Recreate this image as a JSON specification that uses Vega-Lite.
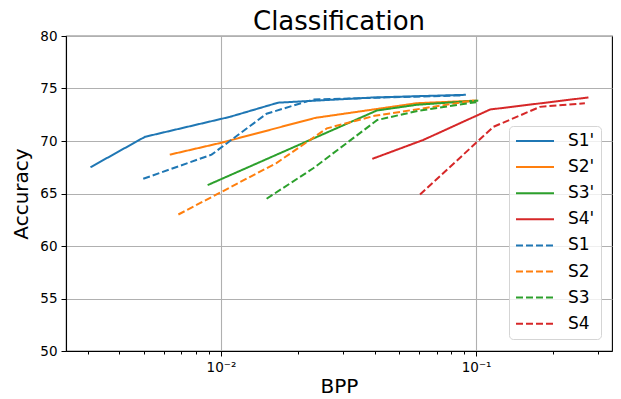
{
  "$schema": "https://vega.github.io/schema/vega-lite/v6.json",
  "autosize": {"type": "none"},
  "width": 546,
  "height": 315,
  "padding": {"left": 66, "top": 36, "right": 9, "bottom": 48},
  "background": "white",
  "title": {"text": "Classification", "fontSize": 26, "font": "DejaVu Sans", "fontWeight": "normal", "color": "black", "offset": -6},
  "config": {
    "font": "DejaVu Sans",
    "view": {"stroke": "black", "strokeWidth": 1.1}
  },
  "data": {"values": [
    {"series": "S1'", "bpp": 0.00308, "acc": 67.5},
    {"series": "S1'", "bpp": 0.00504, "acc": 70.4},
    {"series": "S1'", "bpp": 0.01084, "acc": 72.3},
    {"series": "S1'", "bpp": 0.01675, "acc": 73.65},
    {"series": "S1'", "bpp": 0.04, "acc": 74.15},
    {"series": "S1'", "bpp": 0.0912, "acc": 74.4},
    {"series": "S2'", "bpp": 0.0063, "acc": 68.7},
    {"series": "S2'", "bpp": 0.0099, "acc": 69.8},
    {"series": "S2'", "bpp": 0.0234, "acc": 72.2},
    {"series": "S2'", "bpp": 0.0586, "acc": 73.6},
    {"series": "S2'", "bpp": 0.1007, "acc": 73.85},
    {"series": "S3'", "bpp": 0.00887, "acc": 65.8},
    {"series": "S3'", "bpp": 0.0408, "acc": 72.9},
    {"series": "S3'", "bpp": 0.0586, "acc": 73.45},
    {"series": "S3'", "bpp": 0.102, "acc": 73.85},
    {"series": "S4'", "bpp": 0.0392, "acc": 68.3},
    {"series": "S4'", "bpp": 0.0621, "acc": 70.1},
    {"series": "S4'", "bpp": 0.1135, "acc": 73.0},
    {"series": "S4'", "bpp": 0.2757, "acc": 74.15},
    {"series": "S1", "bpp": 0.00496, "acc": 66.4},
    {"series": "S1", "bpp": 0.00919, "acc": 68.7},
    {"series": "S1", "bpp": 0.0151, "acc": 72.6},
    {"series": "S1", "bpp": 0.023, "acc": 73.95},
    {"series": "S1", "bpp": 0.0889, "acc": 74.35},
    {"series": "S2", "bpp": 0.00681, "acc": 63.0},
    {"series": "S2", "bpp": 0.0165, "acc": 67.9},
    {"series": "S2", "bpp": 0.026, "acc": 71.2},
    {"series": "S2", "bpp": 0.04, "acc": 72.4},
    {"series": "S2", "bpp": 0.098, "acc": 73.85},
    {"series": "S3", "bpp": 0.0151, "acc": 64.5},
    {"series": "S3", "bpp": 0.023, "acc": 67.4},
    {"series": "S3", "bpp": 0.041, "acc": 72.0},
    {"series": "S3", "bpp": 0.06, "acc": 72.9},
    {"series": "S3", "bpp": 0.1, "acc": 73.7},
    {"series": "S4", "bpp": 0.0603, "acc": 64.9},
    {"series": "S4", "bpp": 0.117, "acc": 71.35},
    {"series": "S4", "bpp": 0.178, "acc": 73.25},
    {"series": "S4", "bpp": 0.267, "acc": 73.6}
  ]},
  "mark": {"type": "line", "strokeWidth": 2, "clip": true},
  "encoding": {
    "x": {
      "field": "bpp", "type": "quantitative",
      "scale": {"type": "log", "domain": [0.00247, 0.341], "nice": false},
      "axis": {
        "title": "BPP", "titleFontSize": 20, "titleFontWeight": "normal", "titleColor": "black", "titlePadding": 3,
        "values": [0.003, 0.004, 0.005, 0.006, 0.007, 0.008, 0.009, 0.01, 0.02, 0.03, 0.04, 0.05, 0.06, 0.07, 0.08, 0.09, 0.1, 0.2, 0.3],
        "labelExpr": "datum.value == 0.01 ? '10⁻²' : (datum.value == 0.1 ? '10⁻¹' : '')",
        "labelFontSize": 13.5, "labelColor": "black", "labelPadding": 4,
        "tickColor": "black", "tickWidth": 1,
        "tickSize": {"condition": {"test": "datum.value == 0.01 || datum.value == 0.1", "value": 5}, "value": 3},
        "grid": true, "gridColor": "#b0b0b0", "gridWidth": 1.1,
        "gridOpacity": {"condition": {"test": "datum.value == 0.01 || datum.value == 0.1", "value": 1}, "value": 0},
        "domainColor": "black", "domainWidth": 1.1
      }
    },
    "y": {
      "field": "acc", "type": "quantitative",
      "scale": {"domain": [50, 80], "nice": false, "zero": false},
      "axis": {
        "title": "Accuracy", "titleFontSize": 20, "titleFontWeight": "normal", "titleColor": "black", "titlePadding": 8,
        "values": [50, 55, 60, 65, 70, 75, 80],
        "labelFontSize": 13.5, "labelColor": "black", "labelPadding": 4,
        "tickColor": "black", "tickSize": 5, "tickWidth": 1,
        "grid": true, "gridColor": "#b0b0b0", "gridWidth": 1.1,
        "domainColor": "black", "domainWidth": 1.1
      }
    },
    "color": {
      "field": "series", "type": "nominal",
      "scale": {
        "domain": ["S1'", "S2'", "S3'", "S4'", "S1", "S2", "S3", "S4"],
        "range": ["#1f77b4", "#ff7f0e", "#2ca02c", "#d62728", "#1f77b4", "#ff7f0e", "#2ca02c", "#d62728"]
      },
      "legend": {
        "title": null, "orient": "none", "legendX": 443, "legendY": 90,
        "symbolType": "stroke", "symbolSize": 1444, "symbolStrokeWidth": 2,
        "labelFontSize": 17, "labelColor": "black", "labelOffset": 13,
        "clipHeight": 18, "rowPadding": 8.1, "padding": 6,
        "strokeColor": "#d5d5d5", "fillColor": "rgba(255,255,255,0.8)", "cornerRadius": 4
      }
    },
    "strokeDash": {
      "field": "series", "type": "nominal",
      "scale": {
        "domain": ["S1'", "S2'", "S3'", "S4'", "S1", "S2", "S3", "S4"],
        "range": [[1, 0], [1, 0], [1, 0], [1, 0], [7, 3], [7, 3], [7, 3], [7, 3]]
      },
      "legend": {
        "title": null, "orient": "none", "legendX": 443, "legendY": 90,
        "symbolType": "stroke", "symbolSize": 1444, "symbolStrokeWidth": 2,
        "labelFontSize": 17, "labelColor": "black", "labelOffset": 13,
        "clipHeight": 18, "rowPadding": 8.1, "padding": 6,
        "strokeColor": "#d5d5d5", "fillColor": "rgba(255,255,255,0.8)", "cornerRadius": 4
      }
    }
  }
}
